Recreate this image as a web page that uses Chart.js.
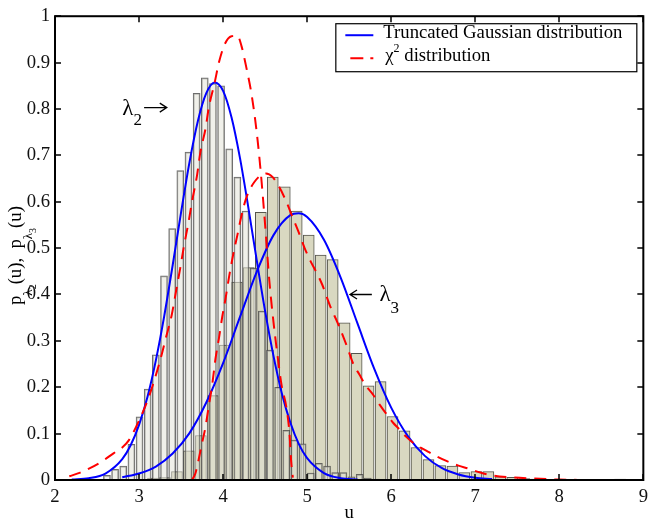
<!DOCTYPE html>
<html>
<head>
<meta charset="utf-8">
<script src="https://cdn.jsdelivr.net/npm/chart.js@4.4.1/dist/chart.umd.min.js"></script>
<style>
  html, body { margin: 0; padding: 0; background: #fff; }
  #wrap { width: 654px; height: 524px; }
</style>
</head>
<body>
<div id="wrap"><canvas id="c" width="654" height="524"></canvas></div>
<script>
// ── Histogram for lambda_2 (light bars) ──
const lam2BinCenters = [2.618, 2.715, 2.812, 2.909, 3.006, 3.103, 3.200, 3.297, 3.394, 3.491,
  3.588, 3.685, 3.782, 3.879, 3.976, 4.073, 4.170, 4.267, 4.364, 4.461,
  4.558, 4.655, 4.752, 4.849, 4.946, 5.043, 5.140, 5.237, 5.334, 5.431,
  5.528, 5.625, 5.722, 5.819];
const lam2Density = [0.010, 0.023, 0.030, 0.077, 0.136, 0.196, 0.270, 0.440, 0.542, 0.667,
  0.707, 0.834, 0.867, 0.855, 0.850, 0.714, 0.653, 0.580, 0.457, 0.364,
  0.280, 0.200, 0.107, 0.086, 0.078, 0.015, 0.036, 0.030, 0.016, 0.016,
  0.007, 0.012, 0.004, 0.002];

// ── Histogram for lambda_3 (khaki bars) ──
const lam3BinCenters = [3.166, 3.309, 3.451, 3.594, 3.736, 3.879, 4.021, 4.164, 4.306, 4.449,
  4.591, 4.734, 4.876, 5.019, 5.161, 5.304, 5.446, 5.589, 5.731, 5.874,
  6.016, 6.159, 6.301, 6.444, 6.586, 6.729, 6.871, 7.014, 7.156, 7.299,
  7.441, 7.584, 7.726, 7.869, 8.011, 8.154, 8.296, 8.439, 8.581, 8.724];
const lam3Density = [0.004, 0.005, 0.018, 0.063, 0.096, 0.182, 0.291, 0.427, 0.458, 0.577,
  0.653, 0.632, 0.580, 0.528, 0.485, 0.475, 0.339, 0.273, 0.203, 0.212,
  0.137, 0.106, 0.070, 0.044, 0.031, 0.030, 0.016, 0.018, 0.018, 0.007,
  0.006, 0.003, 0.002, 0.001, 0.001, 0, 0, 0, 0, 0.002];

// ── Truncated Gaussian fits (blue) ──
const gaussL2U = [2.2, 2.4, 2.6, 2.8, 2.9, 3.0, 3.1, 3.2, 3.3, 3.4, 3.5, 3.6, 3.7, 3.8, 3.9,
  4.0, 4.1, 4.2, 4.3, 4.4, 4.5, 4.6, 4.7, 4.8, 4.9, 5.0, 5.2, 5.4, 5.6];
const gaussL2V = [0.001, 0.004, 0.014, 0.045, 0.075, 0.119, 0.179, 0.258, 0.354, 0.463, 0.577, 0.685, 0.774, 0.834, 0.857,
  0.839, 0.782, 0.695, 0.588, 0.474, 0.364, 0.267, 0.186, 0.124, 0.078, 0.047, 0.015, 0.004, 0.001];

const gaussL3U = [2.8, 3.0, 3.2, 3.4, 3.6, 3.8, 4.0, 4.2, 4.4, 4.6, 4.8, 4.9, 5.0, 5.2,
  5.4, 5.6, 5.8, 6.0, 6.2, 6.4, 6.6, 6.8, 7.0, 7.2];
const gaussL3V = [0.006, 0.014, 0.029, 0.057, 0.101, 0.167, 0.252, 0.351, 0.449, 0.528, 0.571, 0.575, 0.567, 0.518,
  0.436, 0.337, 0.239, 0.156, 0.094, 0.052, 0.026, 0.012, 0.005, 0.002];

// ── Chi-square fits (red dashed) ──
const chiL2U = [2.17, 2.3, 2.41, 2.55, 2.7, 2.8, 2.88, 3.0, 3.1, 3.18, 3.26, 3.32, 3.39, 3.44,
  3.49, 3.53, 3.59, 3.63, 3.69, 3.73, 3.79, 3.83, 3.9, 3.95, 4.02, 4.1, 4.17, 4.22,
  4.27, 4.34, 4.4, 4.45, 4.5, 4.55, 4.6, 4.65, 4.7, 4.75, 4.79, 4.81, 4.83];
const chiL2V = [0.008, 0.016, 0.025, 0.039, 0.058, 0.070, 0.086, 0.128, 0.171, 0.214, 0.264, 0.307, 0.357, 0.407,
  0.457, 0.500, 0.557, 0.600, 0.657, 0.707, 0.757, 0.803, 0.857, 0.900, 0.940, 0.957, 0.958, 0.935,
  0.895, 0.830, 0.750, 0.660, 0.550, 0.430, 0.340, 0.265, 0.200, 0.160, 0.100, 0.040, 0.005];

const chiL3U = [3.63, 3.67, 3.71, 3.75, 3.79, 3.83, 3.87, 3.91, 3.95, 3.99, 4.03, 4.07, 4.12, 4.17,
  4.22, 4.27, 4.32, 4.37, 4.44, 4.51, 4.59, 4.67, 4.75, 4.83, 4.9, 4.97, 5.04, 5.11,
  5.18, 5.28, 5.36, 5.47, 5.55, 5.62, 5.7, 5.78, 5.86, 5.94, 6.02, 6.1, 6.18, 6.27,
  6.35, 6.45, 6.55, 6.67, 6.8, 6.93, 7.06, 7.2, 7.4, 7.7, 8.0, 8.3];
const chiL3V = [0.0, 0.014, 0.045, 0.080, 0.114, 0.160, 0.205, 0.262, 0.305, 0.352, 0.392, 0.437, 0.486, 0.528,
  0.571, 0.605, 0.627, 0.642, 0.656, 0.661, 0.653, 0.631, 0.601, 0.565, 0.534, 0.500, 0.472, 0.448,
  0.421, 0.372, 0.340, 0.290, 0.250, 0.228, 0.203, 0.185, 0.163, 0.143, 0.124, 0.109, 0.093, 0.079,
  0.070, 0.060, 0.050, 0.040, 0.031, 0.024, 0.016, 0.010, 0.006, 0.003, 0.001, 0.0];

// ── Axes ──
const xTickValues = [2, 3, 4, 5, 6, 7, 8, 9];
const yTickValues = [0, 0.1, 0.2, 0.3, 0.4, 0.5, 0.6, 0.7, 0.8, 0.9, 1];
const yTickLabels = ['0', '0.1', '0.2', '0.3', '0.4', '0.5', '0.6', '0.7', '0.8', '0.9', '1'];

const legendLabels = ['Truncated Gaussian distribution', 'distribution'];

const SERIF = '"Liberation Serif", "Times New Roman", serif';
const FS = 18.7;

const toXY = (xs, ys) => xs.map((x, i) => ({ x, y: ys[i] }));

// draw a run of text pieces along the baseline, each with its own size / drop
function richText(ctx, parts, x, y) {
  let cx = x;
  parts.forEach(p => {
    ctx.font = p.size + 'px ' + SERIF;
    ctx.fillText(p.t, cx, y + (p.dy || 0));
    cx += ctx.measureText(p.t).width;
  });
  return cx;
}

function arrow(ctx, x1, y1, x2, y2) {
  const dir = Math.sign(x2 - x1);
  ctx.beginPath();
  ctx.moveTo(x1, y1); ctx.lineTo(x2, y2);
  ctx.moveTo(x2 - dir * 7, y2 - 4.5); ctx.lineTo(x2, y2); ctx.lineTo(x2 - dir * 7, y2 + 4.5);
  ctx.stroke();
}

const decor = {
  id: 'decor',
  afterDatasetsDraw(chart) {
    const { ctx, chartArea: a, scales: { x, y } } = chart;
    ctx.save();
    ctx.strokeStyle = '#000';
    ctx.fillStyle = '#000';

    // frame
    ctx.lineWidth = 2;
    ctx.strokeRect(a.left, a.top, a.right - a.left, a.bottom - a.top);

    // inward ticks on all four sides
    ctx.lineWidth = 1.5;
    ctx.beginPath();
    xTickValues.forEach(v => {
      const px = Math.round(x.getPixelForValue(v));
      ctx.moveTo(px, a.bottom); ctx.lineTo(px, a.bottom - 6);
      ctx.moveTo(px, a.top); ctx.lineTo(px, a.top + 6);
    });
    yTickValues.forEach(v => {
      const py = Math.round(y.getPixelForValue(v));
      ctx.moveTo(a.left, py); ctx.lineTo(a.left + 6, py);
      ctx.moveTo(a.right, py); ctx.lineTo(a.right - 6, py);
    });
    ctx.stroke();

    // x axis title
    ctx.font = FS + 'px ' + SERIF;
    ctx.textAlign = 'center';
    ctx.textBaseline = 'alphabetic';
    ctx.fillText('u', (a.left + a.right) / 2, 518);

    // y axis title (rotated, with nested subscripts)
    ctx.textAlign = 'left';
    ctx.save();
    ctx.translate(21, 305);
    ctx.rotate(-Math.PI / 2);
    richText(ctx, [
      { t: 'p', size: FS }, { t: 'λ', size: 13, dy: 11 }, { t: '2', size: 10, dy: 15 },
      { t: '(u),  ', size: FS },
      { t: 'p', size: FS }, { t: 'λ', size: 13, dy: 11 }, { t: '3', size: 10, dy: 15 },
      { t: '(u)', size: FS }
    ], 0, 0);
    ctx.restore();

    // curve annotations
    ctx.lineWidth = 1.3;
    let px = x.getPixelForValue(2.80), py = y.getPixelForValue(0.786);
    richText(ctx, [{ t: 'λ', size: 23 }, { t: '2', size: 17, dy: 10 }], px, py);
    arrow(ctx, x.getPixelForValue(3.06), y.getPixelForValue(0.803), x.getPixelForValue(3.33), y.getPixelForValue(0.803));

    arrow(ctx, x.getPixelForValue(5.77), y.getPixelForValue(0.40), x.getPixelForValue(5.51), y.getPixelForValue(0.40));
    px = x.getPixelForValue(5.86); py = y.getPixelForValue(0.385);
    richText(ctx, [{ t: 'λ', size: 23 }, { t: '3', size: 17, dy: 12 }], px, py);
    ctx.restore();
  },
  afterDraw(chart) {
    const { ctx, chartArea: a } = chart;
    const bx = a.right - 308, by = a.top + 7, bw = 301, bh = 48;
    ctx.save();
    ctx.fillStyle = '#fff';
    ctx.fillRect(bx, by, bw, bh);
    ctx.strokeStyle = '#000';
    ctx.lineWidth = 1.2;
    ctx.strokeRect(bx + 0.5, by + 0.5, bw, bh);

    // blue sample
    ctx.lineWidth = 2;
    ctx.strokeStyle = '#0000ff';
    ctx.beginPath(); ctx.moveTo(bx + 10, by + 12); ctx.lineTo(bx + 38, by + 12); ctx.stroke();
    // red dashed sample
    ctx.strokeStyle = '#ff0000';
    ctx.setLineDash([13, 7]);
    ctx.lineDashOffset = 15;
    ctx.beginPath(); ctx.moveTo(bx + 10, by + 35); ctx.lineTo(bx + 38, by + 35); ctx.stroke();
    ctx.setLineDash([]);

    ctx.fillStyle = '#000';
    ctx.textAlign = 'left';
    ctx.textBaseline = 'alphabetic';
    ctx.font = FS + 'px ' + SERIF;
    ctx.fillText(legendLabels[0], bx + 48, by + 15);
    richText(ctx, [{ t: 'χ', size: FS }, { t: '2', size: 12, dy: -9 }, { t: ' ' + legendLabels[1], size: FS }], bx + 50, by + 38);
    ctx.restore();
  }
};

const tickFont = { family: SERIF, size: FS };

new Chart(document.getElementById('c'), {
  type: 'bar',
  data: {
    datasets: [
      {
        type: 'line', label: 'chi2 l2', data: toXY(chiL2U, chiL2V),
        borderColor: '#ff0000', borderWidth: 2, borderDash: [12, 8],
        pointRadius: 0, cubicInterpolationMode: 'monotone', order: 1
      },
      {
        type: 'line', label: 'chi2 l3', data: toXY(chiL3U, chiL3V),
        borderColor: '#ff0000', borderWidth: 2, borderDash: [12, 8],
        pointRadius: 0, cubicInterpolationMode: 'monotone', order: 1
      },
      {
        type: 'line', label: 'gauss l2', data: toXY(gaussL2U, gaussL2V),
        borderColor: '#0000ff', borderWidth: 2,
        pointRadius: 0, cubicInterpolationMode: 'monotone', order: 2
      },
      {
        type: 'line', label: 'gauss l3', data: toXY(gaussL3U, gaussL3V),
        borderColor: '#0000ff', borderWidth: 2,
        pointRadius: 0, cubicInterpolationMode: 'monotone', order: 2
      },
      {
        type: 'bar', label: 'hist l2', data: toXY(lam2BinCenters, lam2Density),
        backgroundColor: 'rgba(225,225,213,0.5)', borderColor: 'rgba(60,60,60,0.75)',
        borderWidth: 1, barThickness: 7, grouped: false, order: 4
      },
      {
        type: 'bar', label: 'hist l3', data: toXY(lam3BinCenters, lam3Density),
        backgroundColor: '#d9d8c1', borderColor: '#55554c',
        borderWidth: 1, barThickness: 11, grouped: false, order: 5
      }
    ]
  },
  options: {
    responsive: false,
    animation: false,
    devicePixelRatio: 1,
    layout: { padding: { top: 13, right: 4, left: 0, bottom: 0 } },
    plugins: { legend: { display: false }, tooltip: { enabled: false } },
    scales: {
      x: {
        type: 'linear', min: 2, max: 9, offset: false,
        grid: { display: false, drawTicks: false, offset: false },
        border: { display: false },
        afterBuildTicks: s => { s.ticks = xTickValues.map(v => ({ value: v })); },
        afterFit: s => { s.height = 44; },
        ticks: { font: tickFont, color: '#111', padding: 6, maxRotation: 0, callback: v => String(v) }
      },
      y: {
        type: 'linear', min: 0, max: 1,
        grid: { display: false, drawTicks: false },
        border: { display: false },
        afterBuildTicks: s => { s.ticks = yTickValues.map(v => ({ value: v })); },
        afterFit: s => { s.width = 55; },
        ticks: { font: tickFont, color: '#111', padding: 5, callback: (v, i) => yTickLabels[i] }
      }
    }
  },
  plugins: [decor]
});
</script>
</body>
</html>
